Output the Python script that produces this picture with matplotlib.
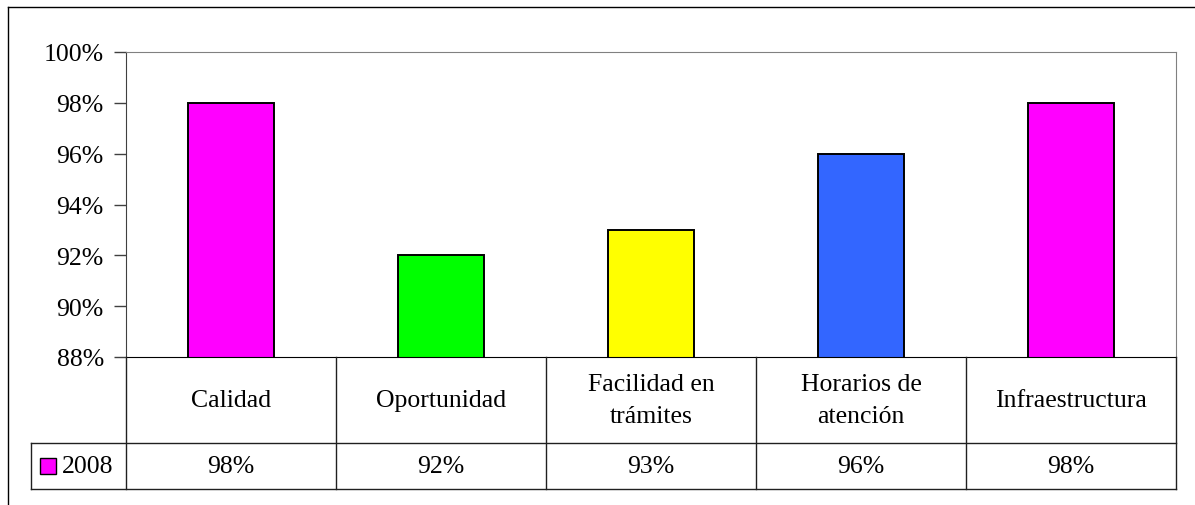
import matplotlib.pyplot as plt
from matplotlib.patches import Rectangle
from matplotlib.ticker import FuncFormatter

# ---------------------------------------------------
# Data
# ---------------------------------------------------

categories = ["Calidad", "Oportunidad", "Facilidad en\ntrámites",
              "Horarios de\natención", "Infraestructura"]
values_2008 = [98, 92, 93, 96, 98]
bar_colors = ["#FF00FF", "#00FF00", "#FFFF00", "#3366FF", "#FF00FF"]
series_name = "2008"
y_ticks = [88, 90, 92, 94, 96, 98, 100]

# ---------------------------------------------------
# Figure
# ---------------------------------------------------

W, H = 1195, 506
plt.rcParams['font.family'] = ['Liberation Serif', 'DejaVu Serif']
fs = 18.5

fig = plt.figure(figsize=(W / 100, H / 100), dpi=100)

# outer frame (left and top edges visible)
fig.add_artist(plt.Line2D([8 / W, 8 / W], [0, 1 - 8 / H], color="black", lw=1.0,
                          transform=fig.transFigure))
fig.add_artist(plt.Line2D([8 / W, 1], [1 - 8 / H, 1 - 8 / H], color="black", lw=1.0,
                          transform=fig.transFigure))

# plot area
px0, px1 = 126, 1176
py_top, py_bot = 53, 358
ax = fig.add_axes([px0 / W, 1 - py_bot / H, (px1 - px0) / W, (py_bot - py_top) / H])

x = list(range(len(categories)))
ax.bar(x, values_2008, width=0.405, color=bar_colors, edgecolor="black", linewidth=1.4)
ax.set_xlim(-0.5, len(categories) - 0.5)
ax.set_ylim(88, 100)
ax.set_yticks(y_ticks)
ax.yaxis.set_major_formatter(FuncFormatter(lambda v, p: f"{v:.0f}%"))
ax.tick_params(axis="y", direction="out", length=9, width=1, color="#404040",
               labelsize=fs, pad=7)
ax.set_xticks([])
for s in ["left", "top", "right"]:
    ax.spines[s].set_color("#808080")
ax.spines["left"].set_color("#404040")
ax.spines["bottom"].set_color("black")

# ---------------------------------------------------
# Data table under the chart
# ---------------------------------------------------

ty_top, ty_mid, ty_bot = 358, 444, 490
axt = fig.add_axes([px0 / W, 1 - ty_bot / H, (px1 - px0) / W, (ty_bot - ty_top) / H])
axt.set_xlim(-0.5, len(categories) - 0.5)
axt.set_ylim(0, ty_bot - ty_top)
axt.axis("off")

row_h = ty_bot - ty_mid
col_w = (px1 - px0) / len(categories)
leg_left = -0.5 - (px0 - 31) / col_w
lc = "#202020"

for i in range(len(categories) + 1):
    axt.plot([i - 0.5, i - 0.5], [0, ty_bot - ty_top], color=lc, lw=1.0, clip_on=False)
axt.plot([leg_left, len(categories) - 0.5], [0, 0], color=lc, lw=1.0, clip_on=False)
axt.plot([leg_left, len(categories) - 0.5], [row_h, row_h], color=lc, lw=1.0, clip_on=False)
axt.plot([leg_left, leg_left], [0, row_h], color=lc, lw=1.0, clip_on=False)

for i, (cat, v) in enumerate(zip(categories, values_2008)):
    axt.text(i, row_h + (ty_mid - ty_top) / 2, cat, ha="center", va="center",
             fontsize=fs, linespacing=1.55, clip_on=False)
    axt.text(i, row_h / 2, f"{v}%", ha="center", va="center", fontsize=fs, clip_on=False)

# legend key in the table row
sq_w = 16 / col_w
axt.add_patch(Rectangle((leg_left + 9 / col_w, row_h / 2 - 8), sq_w, 16,
                        facecolor=bar_colors[0], edgecolor="black", lw=1.0, clip_on=False))
axt.text(leg_left + 31 / col_w, row_h / 2, series_name, ha="left", va="center",
         fontsize=fs, clip_on=False)

fig.savefig("out.png", dpi=100)
